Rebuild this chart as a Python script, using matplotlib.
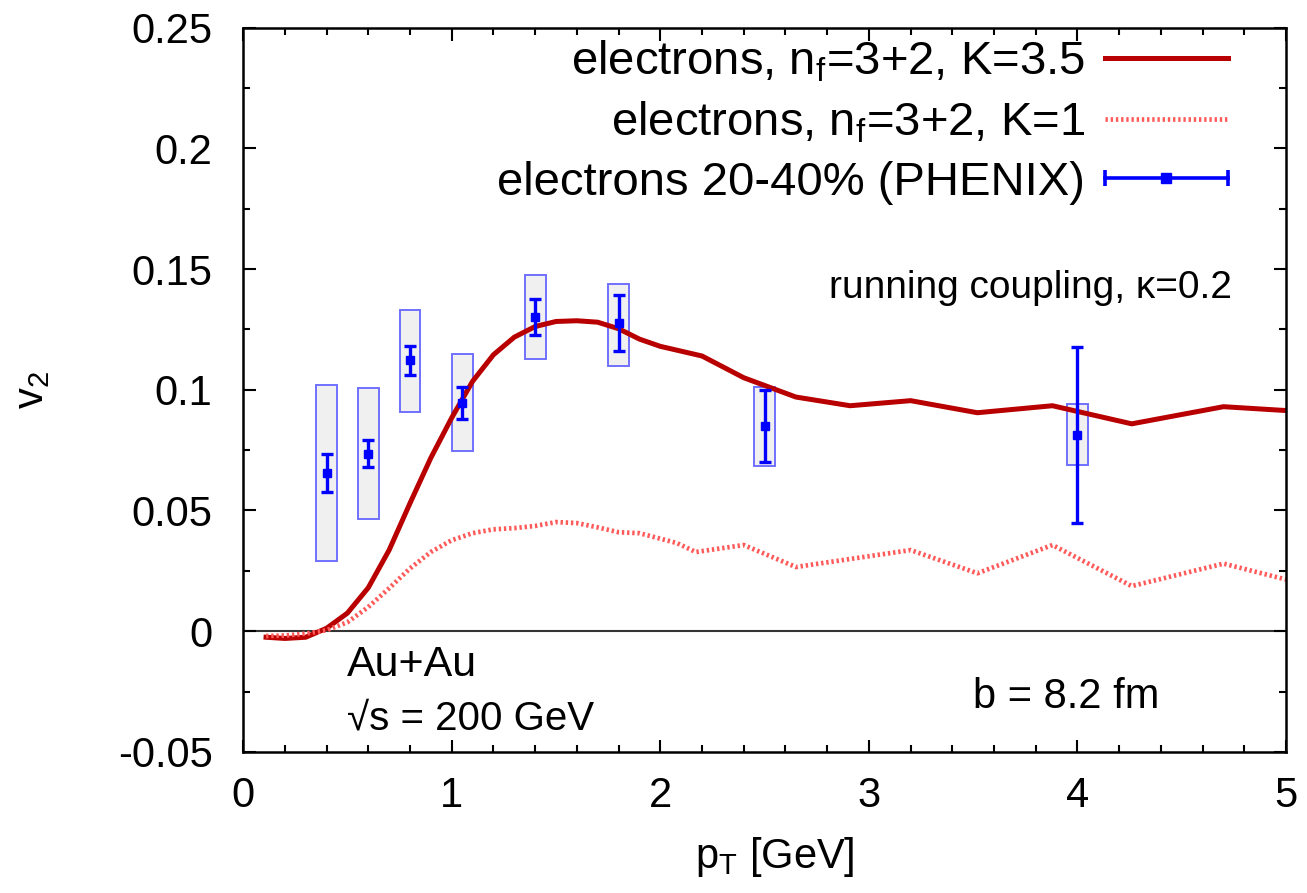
import numpy as np
import matplotlib
matplotlib.use('Agg')
import matplotlib.pyplot as plt
from matplotlib.lines import Line2D
from matplotlib.patches import Rectangle
from matplotlib.legend_handler import HandlerBase
from matplotlib.ticker import MultipleLocator, FormatStrFormatter

plt.rcParams['font.family'] = ['Liberation Sans', 'DejaVu Sans']
plt.rcParams['mathtext.fontset'] = 'custom'
plt.rcParams['mathtext.rm'] = 'Liberation Sans'
plt.rcParams['axes.unicode_minus'] = False

# theory curves
pt_k35 = [0.11, 0.2, 0.3, 0.4, 0.5, 0.6, 0.7, 0.8, 0.9, 1.0, 1.1, 1.2, 1.3, 1.4, 1.5,
          1.6, 1.7, 1.8, 1.9, 2.0, 2.2, 2.4, 2.65, 2.91, 3.2, 3.52, 3.88, 4.26, 4.7, 5.0]
v2_k35 = [-0.0025, -0.003, -0.0025, 0.0012, 0.0075, 0.018, 0.0336, 0.053, 0.0718, 0.0884,
          0.1035, 0.1145, 0.1218, 0.1262, 0.1283, 0.1286, 0.128, 0.1253, 0.121, 0.118,
          0.114, 0.105, 0.097, 0.0934, 0.0955, 0.0905, 0.0934, 0.0859, 0.093, 0.0914]

pt_k1 = [0.11, 0.2, 0.3, 0.4, 0.5, 0.6, 0.7, 0.8, 0.9, 1.0, 1.1, 1.2, 1.3, 1.4, 1.5,
         1.6, 1.7, 1.8, 1.9, 2.08, 2.17, 2.4, 2.65, 3.2, 3.52, 3.88, 4.26, 4.7, 5.0]
v2_k1 = [-0.002, -0.0018, -0.001, 0.0004, 0.0037, 0.010, 0.0178, 0.026, 0.0328, 0.0377,
         0.0406, 0.0422, 0.0427, 0.0436, 0.0452, 0.0448, 0.043, 0.041, 0.0406, 0.0365,
         0.0328, 0.0357, 0.0266, 0.0336, 0.024, 0.0357, 0.0187, 0.028, 0.0214]

# PHENIX electrons 20-40%
pt_data = [0.40, 0.60, 0.80, 1.05, 1.40, 1.80, 2.50, 4.00]
v2_data = [0.0656, 0.0735, 0.1122, 0.0946, 0.1303, 0.1275, 0.0850, 0.0813]
stat_err = [0.008, 0.0055, 0.006, 0.0066, 0.0075, 0.0116, 0.0148, 0.0365]
sys_lo = [0.029, 0.0465, 0.091, 0.0747, 0.1129, 0.110, 0.0685, 0.069]
sys_hi = [0.102, 0.1008, 0.133, 0.115, 0.1477, 0.144, 0.101, 0.094]
box_halfwidth = 0.05

RED = '#b80000'
LIGHTRED = '#ff5a5a'
BLUE = '#0000ff'


class HandlerBarH(HandlerBase):
    # gnuplot-like errorbar key sample: line with caps at both ends and square in middle
    def create_artists(self, legend, orig_handle, xdescent, ydescent, width, height, fontsize, trans):
        y = height / 2 - ydescent
        x0, x1 = -xdescent, -xdescent + width
        ln = Line2D([x0, x1], [y, y], color=BLUE, lw=2.6, transform=trans)
        caps = Line2D([x0, x1], [y, y], ls='none', marker='|', ms=11, mew=2.6, color=BLUE, transform=trans)
        sq = Line2D([(x0 + x1) / 2], [y], ls='none', marker='s', ms=6.5, color=BLUE, transform=trans)
        return [ln, caps, sq]


fig = plt.figure(figsize=(13.07, 8.93), dpi=100)
ax = fig.add_axes([0.186, 0.158, 0.798, 0.811])

for x, lo, hi in zip(pt_data, sys_lo, sys_hi):
    ax.add_patch(Rectangle((x - box_halfwidth, lo), 2 * box_halfwidth, hi - lo,
                           facecolor='#f0f0f0', edgecolor='#7070ff', lw=1.4, zorder=1))

ax.axhline(0, color='#333333', lw=1.5, zorder=1.5)
l1, = ax.plot(pt_k35, v2_k35, color=RED, lw=3.6, zorder=2)
l2, = ax.plot(pt_k1, v2_k1, color=LIGHTRED, lw=3.4, ls=(0, (0.5, 0.6)), zorder=2)
ax.errorbar(pt_data, v2_data, yerr=stat_err, fmt='s', color=BLUE, ms=6, lw=2.4,
            capsize=4.5, capthick=2.4, zorder=3)
proxy = Line2D([], [], color=BLUE)

ax.legend([l1, l2, proxy],
          ['electrons, $\\mathregular{n_f}$=3+2, K=3.5',
           'electrons, $\\mathregular{n_f}$=3+2, K=1',
           'electrons 20-40% (PHENIX)'],
          handler_map={proxy: HandlerBarH()},
          loc='upper right', bbox_to_anchor=(0.944, 0.985), frameon=False, markerfirst=False,
          fontsize=34, handlelength=2.6, handletextpad=0.42, labelspacing=0.33,
          borderaxespad=0, borderpad=0)

ax.text(4.74, 0.142, 'running coupling, \u03ba=0.2', fontsize=28, ha='right', va='center')
ax.text(0.50, -0.014, 'Au+Au', fontsize=31, ha='left', va='center')
ax.text(0.50, -0.036, '\u221as = 200 GeV', fontsize=29, ha='left', va='center')
ax.text(3.50, -0.0272, 'b = 8.2 fm', fontsize=30, ha='left', va='center')

ax.set_xlim(0, 5)
ax.set_ylim(-0.05, 0.25)
ax.xaxis.set_major_locator(MultipleLocator(1))
ax.xaxis.set_minor_locator(MultipleLocator(0.2))
ax.yaxis.set_major_locator(MultipleLocator(0.05))
ax.yaxis.set_minor_locator(MultipleLocator(0.025))
ax.yaxis.set_major_formatter(FormatStrFormatter('%g'))
ax.tick_params(which='both', direction='in', top=True, right=True, width=1.5, labelsize=30)
ax.tick_params(which='major', length=9)
ax.tick_params(which='minor', length=5)
ax.tick_params(axis='x', pad=17)
ax.tick_params(axis='y', pad=22)
for s in ax.spines.values():
    s.set_linewidth(1.8)

ax.set_xlabel('$\\mathregular{p_T}$ [GeV]', fontsize=30)
ax.xaxis.set_label_coords(0.51, -0.115)
ax.set_ylabel('$\\mathregular{v_2}$', fontsize=30)
ax.yaxis.set_label_coords(-0.183, 0.5)

fig.savefig('out.png', dpi=100)
